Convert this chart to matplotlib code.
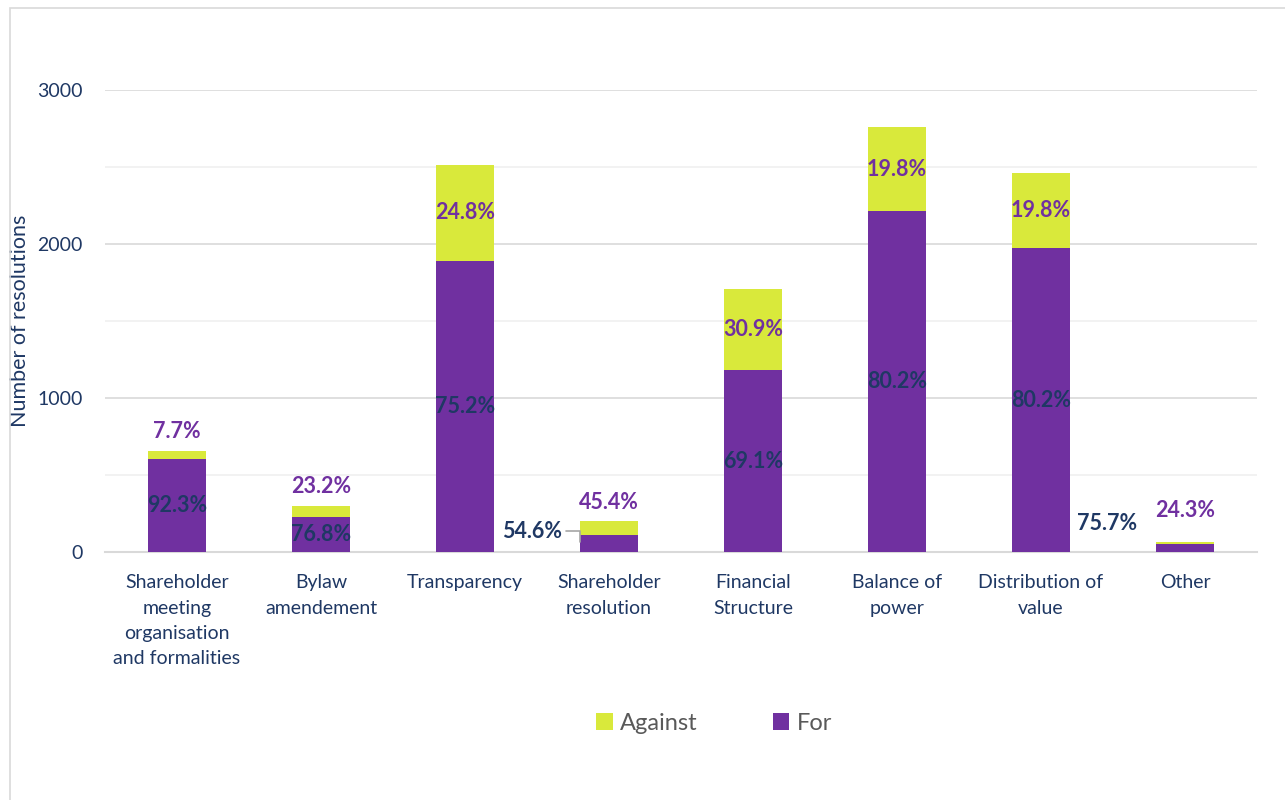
import matplotlib.pyplot as plt
from matplotlib.patches import Rectangle
from matplotlib.ticker import MultipleLocator
import numpy as np

plt.rcParams['font.family'] = ['Lato', 'DejaVu Sans']

categories = ["Shareholder\nmeeting\norganisation\nand formalities", "Bylaw\namendement",
              "Transparency", "Shareholder\nresolution", "Financial\nStructure",
              "Balance of\npower", "Distribution of\nvalue", "Other"]
totals = [656, 299, 2513, 201, 1708, 2760, 2461, 65]
for_pct = [92.3, 76.8, 75.2, 54.6, 69.1, 80.2, 80.2, 75.7]
against_pct = [7.7, 23.2, 24.8, 45.4, 30.9, 19.8, 19.8, 24.3]
against_inside = [False, False, True, False, True, True, True, False]

PURPLE = '#7030A0'
LIME = '#D9E93B'
NAVY = '#1F3864'

for_vals = [t * p / 100 for t, p in zip(totals, for_pct)]
against_vals = [t * p / 100 for t, p in zip(totals, against_pct)]

fig = plt.figure(figsize=(12.85, 8), dpi=100)
fig.patches.append(Rectangle((10 / 1285, -0.1), 1.2, 1.1 - 8 / 800, transform=fig.transFigure,
                             fill=False, edgecolor='#d9d9d9', linewidth=1.2))
ax = fig.add_axes([105 / 1285, 1 - 552 / 800, 1152 / 1285, 462 / 800])

x = np.arange(len(categories))
w = 0.4
ax.bar(x, for_vals, w, color=PURPLE, label='For', zorder=3)
ax.bar(x, against_vals, w, bottom=for_vals, color=LIME, label='Against', zorder=3)

ax.set_xlim(-0.5, len(categories) - 0.5)
ax.set_ylim(0, 3000)
ax.yaxis.set_major_locator(MultipleLocator(1000))
ax.yaxis.set_minor_locator(MultipleLocator(500))
ax.grid(axis='y', which='major', color='#d9d9d9', linewidth=1.2, zorder=0)
ax.grid(axis='y', which='minor', color='#f0f0f0', linewidth=1.2, zorder=0)
for s in ['top', 'right', 'left']:
    ax.spines[s].set_visible(False)
ax.spines['bottom'].set_color('#d9d9d9')
ax.spines['bottom'].set_linewidth(1.5)
ax.tick_params(axis='both', which='both', length=0)
ax.tick_params(axis='y', pad=16, labelsize=14, labelcolor=NAVY)
ax.tick_params(axis='x', pad=16, labelsize=14, labelcolor=NAVY)
ax.set_xticks(x)
ax.set_xticklabels(categories, linespacing=1.6, va='top')
ax.set_ylabel('Number of resolutions', fontsize=15.5, color=NAVY)
ax.yaxis.set_label_coords(-0.065, 0.5)

FS = 15.5
# percentage labels
for i in range(len(categories)):
    f, a = for_vals[i], against_vals[i]
    if i == 3:
        ax.annotate(f'{for_pct[i]}%', xy=(i - w / 2, f / 2 + 10), xytext=(i - 0.535, 136),
                    ha='center', va='center', fontsize=FS, fontweight='bold', color=NAVY,
                    arrowprops=dict(arrowstyle='-', color='#a6a6a6', lw=1.2, shrinkA=1, shrinkB=0,
                                    connectionstyle='angle,angleA=0,angleB=90,rad=0'))
    elif i == 7:
        ax.text(i - 0.542, 182, f'{for_pct[i]}%', ha='center', va='center',
                fontsize=FS, fontweight='bold', color=NAVY)
    else:
        ax.text(i, f / 2, f'{for_pct[i]}%', ha='center', va='center',
                fontsize=FS, fontweight='bold', color=NAVY, zorder=4)
    if against_inside[i]:
        ax.text(i, f + a / 2, f'{against_pct[i]}%', ha='center', va='center',
                fontsize=FS, fontweight='bold', color=PURPLE, zorder=4)
    else:
        off = 31 if i == 7 else 19
        ax.annotate(f'{against_pct[i]}%', xy=(i, f + a), xytext=(0, off * 0.72),
                    textcoords='offset points', ha='center', va='center',
                    fontsize=FS, fontweight='bold', color=PURPLE)

handles, labels = ax.get_legend_handles_labels()
fig.legend(handles[::-1], labels[::-1], loc='center', bbox_to_anchor=(714 / 1285, 1 - 723 / 800),
           ncol=2, frameon=False, fontsize=17, labelcolor='#595959', handlelength=0.7,
           handleheight=0.7, columnspacing=3.2, handletextpad=0.3)

fig.savefig('out.png', dpi=100)
